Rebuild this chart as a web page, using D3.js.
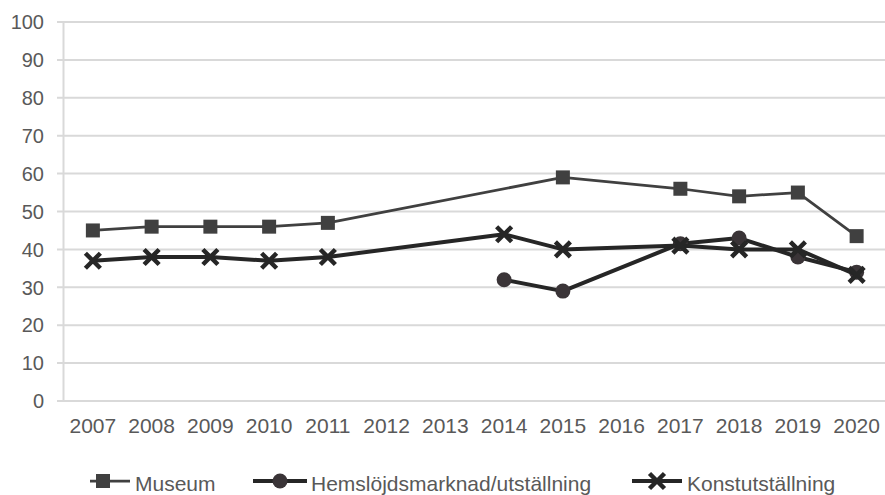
<!DOCTYPE html>
<html>
<head>
<meta charset="utf-8">
<script src="https://cdn.jsdelivr.net/npm/d3@7"></script>
<style>
  body { margin: 0; background: #fff; }
  text { font-family: "Liberation Sans", Arial, sans-serif; fill: #595959; }
</style>
</head>
<body>
<svg id="chart" width="885" height="495"></svg>
<script>
let years = ['2007', '2008', '2009', '2010', '2011', '2012', '2013', '2014', '2015', '2016', '2017', '2018', '2019', '2020'];
let yTicks = [0, 10, 20, 30, 40, 50, 60, 70, 80, 90, 100];
let museum = [45, 46, 46, 46, 47, null, null, null, 59, null, 56, 54, 55, 43.5];
let hemslojd = [null, null, null, null, null, null, null, 32, 29, null, 41.5, 43, 38, 34];
let konst = [37, 38, 38, 37, 38, null, null, 44, 40, null, 41, 40, 40, 33.3];
let seriesNames = ['Museum', 'Hemslöjdsmarknad/utställning', 'Konstutställning'];

let svg = d3.select('#chart');

let x = d3.scaleBand().domain(years).range([63.5, 886]);
let y = d3.scaleLinear().domain([0, 100]).range([401, 22]);

// grid ----------------------------------------------------------------------
svg.append('g').selectAll('line')
    .data(yTicks)
    .enter().append('line')
    .attr('x1', 57).attr('x2', 886)
    .attr('y1', (d) => y(d)).attr('y2', (d) => y(d))
    .attr('stroke', '#d9d9d9').attr('stroke-width', 2);

svg.append('line')
    .attr('x1', 63.5).attr('x2', 63.5)
    .attr('y1', y(100)).attr('y2', y(0))
    .attr('stroke', '#d9d9d9').attr('stroke-width', 2);

svg.append('g').selectAll('text')
    .data(yTicks)
    .enter().append('text')
    .attr('x', 44).attr('y', (d) => y(d))
    .attr('dy', '0.36em')
    .attr('text-anchor', 'end')
    .style('font-size', '20px')
    .text((d) => d);

svg.append('g').selectAll('text')
    .data(years)
    .enter().append('text')
    .attr('x', (d) => x(d) + x.bandwidth() / 2)
    .attr('y', 433)
    .attr('text-anchor', 'middle')
    .style('font-size', '21px')
    .text((d) => d);

// lines ----------------------------------------------------------------------
let cx = (d) => x(d.year) + x.bandwidth() / 2;
let line = d3.line().x(cx).y((d) => y(d.v));

function points(values) {
    return years.map((yr, i) => ({year: yr, v: values[i]})).filter((d) => d.v !== null);
}

function square(g, px, py, color) {
    g.append('rect')
        .attr('x', px - 7).attr('y', py - 7)
        .attr('width', 14).attr('height', 14)
        .attr('fill', color);
}
function circle(g, px, py, color) {
    g.append('circle').attr('cx', px).attr('cy', py).attr('r', 7.5).attr('fill', color);
}
function cross(g, px, py, color) {
    g.append('path')
        .attr('d', 'M' + (px - 7.5) + ',' + (py - 7.5) + 'L' + (px + 7.5) + ',' + (py + 7.5) +
                   'M' + (px + 7.5) + ',' + (py - 7.5) + 'L' + (px - 7.5) + ',' + (py + 7.5))
        .attr('stroke', color).attr('stroke-width', 4.5).attr('fill', 'none');
}

let series = [
    {name: seriesNames[0], values: museum, color: '#404040', width: 2.75, marker: square, mcolor: '#404040'},
    {name: seriesNames[1], values: hemslojd, color: '#262626', width: 4, marker: circle, mcolor: '#3a3437'},
    {name: seriesNames[2], values: konst, color: '#262626', width: 4, marker: cross, mcolor: '#262626'}
];

series.forEach((s) => {
    let g = svg.append('g');
    let pts = points(s.values);
    g.append('path')
        .datum(pts)
        .attr('fill', 'none')
        .attr('stroke', s.color)
        .attr('stroke-width', s.width)
        .attr('stroke-linejoin', 'round')
        .attr('d', line);
    pts.forEach((d) => s.marker(g, cx(d), y(d.v), s.mcolor));
});

// legend ----------------------------------------------------------------------
let legendPos = [{x1: 90, x2: 130, tx: 135, mx: 103}, {x1: 253, x2: 307, tx: 311, mx: 280}, {x1: 632, x2: 682, tx: 687, mx: 657}];
series.forEach((s, i) => {
    let p = legendPos[i];
    let g = svg.append('g');
    let ly = 481;
    g.append('line')
        .attr('x1', p.x1).attr('x2', p.x2)
        .attr('y1', ly).attr('y2', ly)
        .attr('stroke', s.color).attr('stroke-width', s.width);
    s.marker(g, p.mx, ly, s.mcolor);
    g.append('text')
        .attr('x', p.tx).attr('y', 491)
        .style('font-size', '21px')
        .text(s.name);
});
</script>
</body>
</html>
